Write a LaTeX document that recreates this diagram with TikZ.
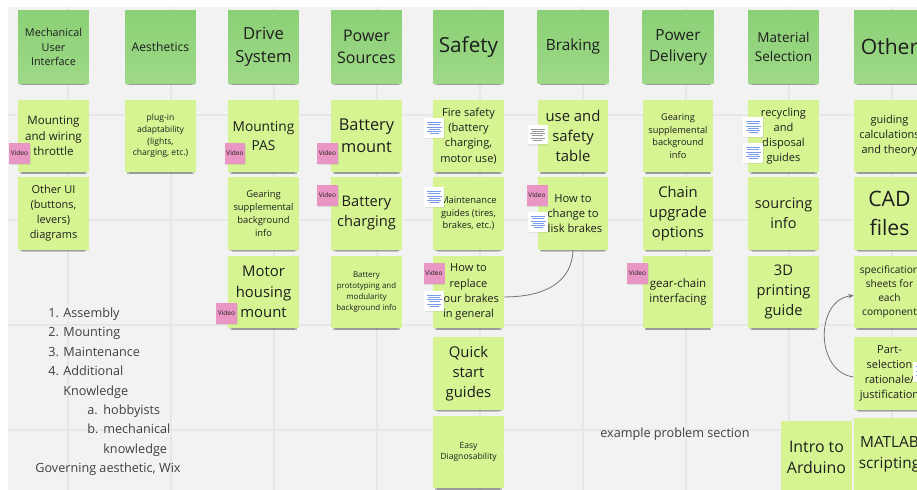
\documentclass[tikz,border=0pt]{standalone}
\usepackage{fontspec}
\setmainfont{Open Sans}
\usepackage{xcolor}
\usepackage{tikz}
\usetikzlibrary{arrows.meta, shadows}
\definecolor{boardbg}{RGB}{242,242,242}
\definecolor{gridcol}{RGB}{231,231,231}
\definecolor{headgreen}{RGB}{139,208,118}
\definecolor{headgreenB}{RGB}{158,217,135}
\definecolor{notegreen}{RGB}{214,245,146}
\definecolor{videopink}{RGB}{234,150,196}
\definecolor{linkblue}{RGB}{120,155,235}
\definecolor{inkcol}{RGB}{30,30,30}
% font from the line pitch in board pixels
\newcommand\notefont[1]{\fontsize{\dimexpr #1pt*417/1000\relax}{\dimexpr #1pt*569/1000\relax}\selectfont}

\begin{document}
\begin{tikzpicture}[x=0.02cm, y=-0.02cm,
  every node/.style={text=inkcol},
  note/.style={fill=notegreen, minimum width=1.42cm, minimum height=1.46cm,
               align=center, inner sep=1pt,
               drop shadow={shadow xshift=0pt, shadow yshift=-3.4pt,
                            shadow scale=0.9, opacity=0.18, fill=black},
               drop shadow={shadow xshift=0pt, shadow yshift=-2pt,
                            shadow scale=0.94, opacity=0.22, fill=black}},
  header/.style={note, top color=headgreen, bottom color=headgreenB},
  videotag/.style={fill=videopink, minimum size=0.42cm, inner sep=0pt,
                   font=\fontsize{3.7}{4}\selectfont,
                   drop shadow={shadow xshift=0.4pt, shadow yshift=-0.8pt, opacity=0.2}},
  linkcard/.style={fill=white, minimum width=0.4cm, minimum height=0.4cm, inner sep=0pt,
                   drop shadow={shadow xshift=0.4pt, shadow yshift=-0.8pt, opacity=0.15},
                   path picture={
                     \foreach \k/\len in {0/14,1/12,2/15,3/11,4/14,5/9}
                       \draw[#1, line width=0.3pt]
                         ([shift={(10-\len/2,4.5+\k*2.2)}]path picture bounding box.north west)
                         -- ++(\len,0);}},
  linkcard/.default=linkblue,
  listline/.style={anchor=base west, inner sep=0pt, font=\fontsize{7.2}{9}\selectfont,
                   text=inkcol!85},
  link/.style={draw=black!55, line width=0.45pt}]

  \useasboundingbox (0,0) rectangle (917,490);
  \clip (0,0) rectangle (917,490);

  %% ─── Board ────────────────────────────────────────────────────────────────
  \fill[white] (0,0) rectangle (917,490);
  \fill[boardbg] (8,7) rectangle (917,490);
  \foreach \gx in {68,171,274,377,480,583,686,789,892}
    \draw[gridcol, line width=0.6pt] (\gx,7) -- (\gx,490);
  \foreach \gy in {115,220,325,430}
    \draw[gridcol, line width=0.6pt] (8,\gy) -- (917,\gy);

  %% ─── Column headers ───────────────────────────────────────────────────────
  \foreach \c/\xc/\fs/\txt in {1/53.5/14.8/{Mechanical\\User\\Interface},
                               2/160.5/16.5/{Aesthetics},
                               3/263.5/22.7/{Drive\\System},
                               4/366.5/21.8/{Power\\Sources},
                               5/468.5/28.3/{Safety},
                               6/573/21/{Braking},
                               7/678/21/{Power\\Delivery},
                               8/783.5/18.5/{Material\\Selection},
                               9/889.5/28.8/{Other}}
    \node[header, font=\notefont{\fs}] (head\c) at (\xc,47) {\txt};

  %% ─── Row 1 ────────────────────────────────────────────────────────────────
  \foreach \c/\xc/\fs/\txt in {1/53.5/15.8/{Mounting\\and wiring\\throttle},
                               2/160.5/11.7/{plug-in\\adaptability\\(lights,\\charging, etc.)},
                               3/263.5/18.7/{Mounting\\PAS},
                               4/366.5/22.3/{Battery\\mount},
                               5/468.5/15.1/{Fire safety\\(battery\\charging,\\motor use)},
                               6/573/20.3/{use and\\safety\\table},
                               7/678/12.6/{Gearing\\supplemental\\background\\info},
                               8/783.5/15.1/{recycling\\and\\disposal\\guides},
                               9/889.5/15/{guiding\\calculations\\and theory}}
    \node[note, font=\notefont{\fs}] (note\c a) at (\xc,136) {\txt};

  %% ─── Row 2 ────────────────────────────────────────────────────────────────
  \foreach \c/\xc/\fs/\txt in {1/53.5/15/{Other UI\\(buttons,\\levers)\\diagrams},
                               3/263.5/12.8/{Gearing\\supplemental\\background\\info},
                               4/366.5/20/{Battery\\charging},
                               5/468.5/12.7/{Maintenance\\guides (tires,\\brakes, etc.)},
                               6/573/15.3/{How to\\change to\\disk brakes},
                               7/678/20.2/{Chain\\upgrade\\options},
                               8/783.5/19.7/{sourcing\\info},
                               9/889.5/29/{CAD\\files}}
    \node[note, font=\notefont{\fs}] (note\c b) at (\xc,213.5) {\txt};

  %% ─── Row 3 ────────────────────────────────────────────────────────────────
  \foreach \c/\xc/\fs/\txt in {3/263.5/20.3/{Motor\\housing\\mount},
                               4/366.5/10.8/{Battery\\prototyping and\\modularity\\background info},
                               5/468.5/15.1/{How to\\replace\\your brakes\\in general},
                               7/678/15.7/{gear-chain\\interfacing},
                               8/783.5/20/{3D\\printing\\guide},
                               9/889.5/13.9/{specification\\sheets for\\each\\component}}
    \node[note, font=\notefont{\fs}] (note\c c) at (\xc,292) {\txt};

  %% ─── Rows 4 and 5 ─────────────────────────────────────────────────────────
  \node[note, font=\notefont{20.3}] (note5d) at (468.5,373.5) {Quick\\start\\guides};
  \node[note, font=\notefont{15}] (note9d) at (889.5,373.5)
    {Part-\\selection\\rationale/\\justification};
  \node[note, font=\notefont{11.7}] (note5e) at (468.5,452) {Easy\\Diagnosability};
  \node[note, font=\notefont{21.7}] (arduino) at (816.5,457.5) {Intro to\\Arduino};
  \node[note, font=\notefont{21}] (note9e) at (889.5,454) {MATLAB\\scripting};

  %% ─── Video tags and link cards ────────────────────────────────────────────
  \foreach \v/\xv/\yv in {1a/19.5/153.5, 3a/235/153.5, 4a/327.5/153.5, 4b/327.5/195.5,
                          6b/537/195.5, 3c/226.5/313, 5c/434/273.5, 7c/637.5/273.5}
    \node[videotag] (video\v) at (\xv,\yv) {Video};

  \foreach \k/\xk/\yk in {5a/434/128, 5b/434/197, 6b/538/222, 8a/753/127,
                          8ax/753/153, 5c/434/300.5, 9d/923/372}
    \node[linkcard] (card\k) at (\xk,\yk) {};
  \node[linkcard=black!40] (card6a) at (537.5,134.5) {};

  %% ─── Connectors ───────────────────────────────────────────────────────────
  \draw[link] (note6b.south) .. controls (572,282) and (545,297) .. ([yshift=-2.8pt]note5c.east);
  \draw[link, -{Stealth[length=3pt, width=2.5pt]}]
    ([yshift=-2pt]note9d.west) .. controls (815,372) and (815,300) .. ([yshift=-2pt]note9c.west);

  %% ─── Free text ────────────────────────────────────────────────────────────
  \foreach \i/\xl/\yl/\txt in {1/48/317/1., 2/48/336.5/2., 3/48/356/3., 4/48/375.5/4.,
                               5/87/414/a., 6/87/433.5/b.}
    \node[listline] (mark\i) at (\xl,\yl) {\txt};
  \foreach \i/\xl/\yl/\txt in {1/63/317/Assembly, 2/63/336.5/Mounting, 3/63/356/Maintenance,
                               4/63/375.5/Additional, 5/63/395/Knowledge, 6/103/414/hobbyists,
                               7/103/433.5/mechanical, 8/103/453/knowledge,
                               9/35/472/{Governing aesthetic, Wix}}
    \node[listline] (list\i) at (\xl,\yl) {\txt};
  \node[listline] (example) at (600,437) {example problem section};
\end{tikzpicture}
\end{document}
